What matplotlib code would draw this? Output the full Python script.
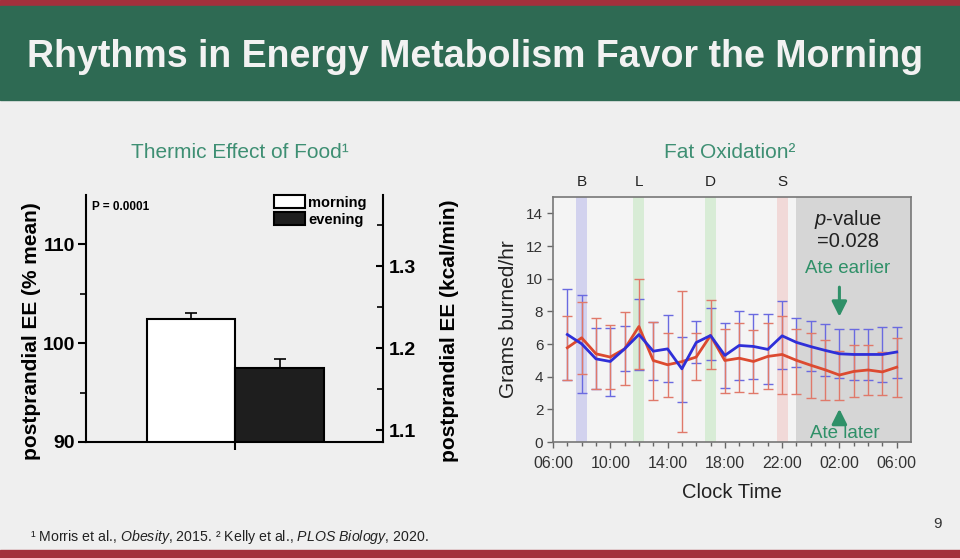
import matplotlib
matplotlib.use("Agg")
import matplotlib.pyplot as plt
from matplotlib.patches import Rectangle
import numpy as np

plt.rcParams['font.family'] = ['Liberation Sans', 'DejaVu Sans']
plt.rcParams['mathtext.fontset'] = 'custom'
plt.rcParams['mathtext.rm'] = 'Liberation Sans'
plt.rcParams['mathtext.it'] = 'Liberation Sans:italic'

# ---------------- data ----------------
slide_title = "Rhythms in Energy Metabolism Favor the Morning"

# Thermic effect of food
tef_labels = ["morning", "evening"]
tef_values = [102.4, 97.5]
tef_err_up = [0.7, 0.9]
tef_left_ticks = [90, 100, 110]
tef_right_ticks = [1.1, 1.2, 1.3]

# Fat oxidation (hours since midnight of day 1)
hours = list(range(7, 31))
blue_mean = [6.58, 6.01, 5.09, 4.93, 5.70, 6.58, 5.56, 5.70, 4.48, 6.09, 6.52, 5.30,
             5.91, 5.85, 5.67, 6.50, 6.10, 5.84, 5.61, 5.40, 5.36, 5.36, 5.36, 5.51]
blue_hi = [9.38, 8.98, 6.98, 6.95, 7.11, 8.74, 7.34, 7.80, 6.44, 7.40, 8.21, 7.31,
           8.05, 7.85, 7.85, 8.62, 7.58, 7.40, 7.23, 6.89, 6.89, 6.89, 7.03, 7.07]
blue_lo = [3.82, 3.00, 3.22, 2.81, 4.34, 4.42, 3.78, 3.65, 2.46, 4.85, 4.99, 3.33,
           3.81, 3.87, 3.53, 4.44, 4.59, 4.34, 4.03, 3.91, 3.77, 3.81, 3.67, 3.91]
red_mean = [5.77, 6.38, 5.40, 5.20, 5.70, 7.07, 4.99, 4.73, 4.92, 5.20, 6.52, 4.99,
            5.13, 4.93, 5.24, 5.36, 5.00, 4.70, 4.42, 4.10, 4.32, 4.41, 4.29, 4.58]
red_hi = [7.71, 8.57, 7.60, 7.19, 7.97, 9.96, 7.37, 6.70, 9.23, 6.68, 8.68, 6.90,
          7.28, 6.83, 7.28, 7.74, 6.93, 6.68, 6.26, 5.60, 5.91, 5.95, 5.54, 6.38]
red_lo = [3.82, 4.19, 3.24, 3.24, 3.48, 4.46, 2.57, 2.73, 0.59, 3.79, 4.46, 3.00,
          3.06, 3.00, 3.26, 2.95, 2.95, 2.69, 2.55, 2.55, 2.75, 2.85, 2.89, 2.75]
meal_labels = ["B", "L", "D", "S"]
meal_hours = [8, 12, 17, 22]
meal_colors = ["#d2d2ee", "#d8ecd6", "#d8ecd6", "#f1d9d8"]
night_start, night_end = 23, 31
y_ticks_fo = [0, 2, 4, 6, 8, 10, 12, 14]
x_major = [6, 10, 14, 18, 22, 26, 30]

# ---------------- figure ----------------
W, H = 960, 558
fig = plt.figure(figsize=(W / 100, H / 100), dpi=100)
fig.patch.set_facecolor("#efefef")

def fx(px):
    return px / W

def fy(py):
    return 1 - py / H

def ax_rect(x0, y0, x1, y1):
    return [fx(x0), fy(y1), (x1 - x0) / W, (y1 - y0) / H]

# header / footer bands
fig.patches.append(Rectangle((0, fy(6)), 1, 6 / H, transform=fig.transFigure,
                             color="#a3303c", zorder=0))
fig.patches.append(Rectangle((0, fy(100)), 1, 94 / H, transform=fig.transFigure,
                             color="#2e6a53", zorder=0))
fig.patches.append(Rectangle((0, 0), 1, 8 / H, transform=fig.transFigure,
                             color="#a3303c", zorder=0))
fig.text(fx(475), fy(57), slide_title, color="#f2f2f2", fontsize=27,
         fontweight="bold", ha="center", va="center")

green_txt = "#3e8f73"
fig.text(fx(240), fy(152), "Thermic Effect of Food\u00b9", color=green_txt,
         fontsize=15, ha="center", va="center")
fig.text(fx(730), fy(152), "Fat Oxidation\u00b2", color=green_txt,
         fontsize=15, ha="center", va="center")

# ---------------- left chart ----------------
ax = fig.add_axes(ax_rect(86, 195, 383, 442))
ax.set_facecolor("none")
xpos = np.arange(len(tef_values))
ax.bar(xpos, tef_values, width=1.0, bottom=0, color=["white", "#1e1e1e"],
       edgecolor="black", linewidth=1.5, zorder=2)
for x, v, e in zip(xpos, tef_values, tef_err_up):
    ax.errorbar([x], [v], yerr=[[0], [e]], fmt="none", ecolor="black",
                elinewidth=1.2, capsize=4, capthick=1.2, zorder=3)
ax.set_xlim(-1.19, 2.17)
ax.set_ylim(90, 115)
ax.set_xticks([0.5])
ax.set_xticklabels([])
ax.set_yticks(tef_left_ticks)
ax.set_yticks([95, 105], minor=True)
ax.set_yticklabels([str(t) for t in tef_left_ticks], fontsize=14, fontweight="bold")
ax.tick_params(axis="both", which="major", direction="out", length=6, width=1.5, pad=2)
ax.tick_params(axis="y", which="minor", direction="out", length=4, width=1.2)
for s in ["top", "right"]:
    ax.spines[s].set_visible(False)
for s in ["left", "bottom"]:
    ax.spines[s].set_linewidth(1.5)
ax.set_ylabel("postprandial EE (% mean)", fontsize=15, fontweight="bold")
ax.yaxis.set_label_coords(-0.15, 0.45)
ax.text(0.02, 0.95, "P = 0.0001", transform=ax.transAxes, fontsize=8.5,
        fontweight="bold", ha="left", va="center")

ax2 = ax.twinx()
ax2.set_ylim(1.0854, 1.387)
ax2.set_yticks(tef_right_ticks)
ax2.set_yticks([1.15, 1.25, 1.35], minor=True)
ax2.set_yticklabels([f"{t:.1f}" for t in tef_right_ticks], fontsize=14, fontweight="bold")
ax2.tick_params(axis="y", which="major", direction="in", length=5, width=1.5, pad=4)
ax2.tick_params(axis="y", which="minor", direction="in", length=4, width=1.2)
for s in ["top", "left", "bottom"]:
    ax2.spines[s].set_visible(False)
ax2.spines["right"].set_linewidth(1.5)
ax2.set_ylabel("postprandial EE (kcal/min)", fontsize=15, fontweight="bold")
ax2.yaxis.set_label_coords(1.193, 0.45)

handles = [Rectangle((0, 0), 1, 1, facecolor="white", edgecolor="black", lw=1.5),
           Rectangle((0, 0), 1, 1, facecolor="#1e1e1e", edgecolor="black", lw=1.5)]
ax2.legend(handles, tef_labels, loc="upper left", bbox_to_anchor=(fx(274), fy(195)),
           bbox_transform=fig.transFigure, frameon=False,
           prop={"weight": "bold", "size": 10.5}, handlelength=2.1, handleheight=1.0,
           labelspacing=0.2, handletextpad=0.25, borderpad=0, borderaxespad=0)

# ---------------- right chart ----------------
bx = fig.add_axes(ax_rect(553, 197, 911, 442))
bx.set_facecolor("#f4f4f4")
bx.axvspan(night_start, night_end, color="#d6d6d6", zorder=0, lw=0)
for mh, mc, ml in zip(meal_hours, meal_colors, meal_labels):
    bx.axvspan(mh - 0.38, mh + 0.38, color=mc, zorder=0.5, lw=0)
    bx.text(mh, 15.9, ml, fontsize=11, ha="center", va="center", color="#222222")

hrs = np.array(hours)
bm, bh, bl = np.array(blue_mean), np.array(blue_hi), np.array(blue_lo)
rm, rh, rl = np.array(red_mean), np.array(red_hi), np.array(red_lo)
bx.errorbar(hrs, bm, yerr=[bm - bl, bh - bm], fmt="none", ecolor="#6a6ae0",
            elinewidth=1.0, capsize=3.5, capthick=1.0, zorder=2)
bx.errorbar(hrs, rm, yerr=[rm - rl, rh - rm], fmt="none", ecolor="#e0796a",
            elinewidth=1.0, capsize=3.5, capthick=1.0, zorder=2)
bx.plot(hrs, bm, color="#2f2fd8", lw=2.0, zorder=4)
bx.plot(hrs, rm, color="#dc4a30", lw=2.0, zorder=3)

bx.set_xlim(6, 31)
bx.set_ylim(0, 15)
bx.set_xticks(x_major)
bx.set_xticks(hours, minor=True)
bx.set_xticklabels([f"{h % 24:02d}:00" for h in x_major], fontsize=11.5, color="#333333")
bx.set_yticks(y_ticks_fo)
bx.set_yticklabels([str(t) for t in y_ticks_fo], fontsize=11, color="#333333")
bx.tick_params(axis="both", which="major", direction="out", length=4, width=1,
               color="#666666", pad=3)
bx.tick_params(axis="x", which="major", pad=6)
bx.tick_params(axis="x", which="minor", direction="out", length=3, width=1,
               color="#666666")
for s in bx.spines.values():
    s.set_color("#777777")
    s.set_linewidth(1.2)
bx.set_ylabel("Grams burned/hr", fontsize=15, color="#222222", labelpad=6)
bx.set_xlabel("Clock Time", fontsize=14.5, color="#222222", labelpad=9)

bx.text(26.6, 13.6, "$p$-value", fontsize=14.5, ha="center", va="center", color="#222222")
bx.text(26.6, 12.3, "=0.028", fontsize=14.5, ha="center", va="center", color="#222222")
ann_green = "#2f9068"
bx.text(26.6, 10.6, "Ate earlier", fontsize=13.5, ha="center", va="center", color=ann_green)
bx.text(26.4, 0.5, "Ate later", fontsize=13.5, ha="center", va="center", color=ann_green)
bx.annotate("", xy=(26, 7.5), xytext=(26, 9.65),
            arrowprops=dict(arrowstyle="-|>,head_width=0.45,head_length=0.9",
                            lw=2.2, color=ann_green))
bx.annotate("", xy=(26, 2.2), xytext=(26, 1.0),
            arrowprops=dict(arrowstyle="-|>,head_width=0.45,head_length=0.9",
                            lw=2.2, color=ann_green))

# ---------------- footer ----------------
fig.text(fx(30), fy(537),
         "\u00b9 Morris et al., $\\it{Obesity}$, 2015. \u00b2 Kelly et al., "
         "$\\it{PLOS\\ Biology}$, 2020.",
         fontsize=10.2, ha="left", va="center", color="#222222")
fig.text(fx(937), fy(524), "9", fontsize=11, ha="center", va="center", color="#333333")

fig.savefig("out.png", dpi=100, facecolor=fig.get_facecolor())
